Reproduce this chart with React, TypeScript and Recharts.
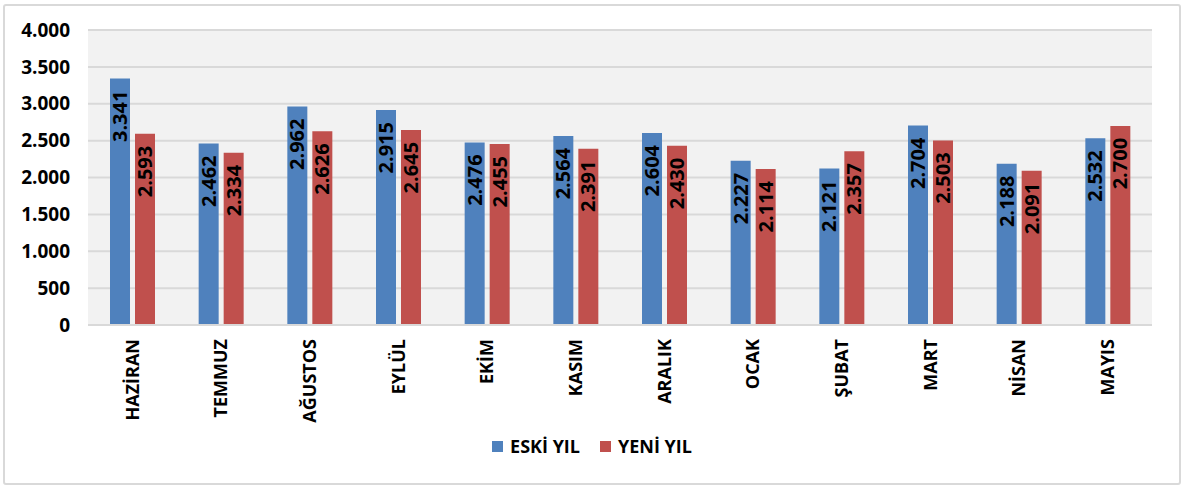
import React from "react"
import { BarChart, Bar, XAxis, YAxis, CartesianGrid, Legend, LabelList } from "recharts"

const months = ["HAZİRAN", "TEMMUZ", "AĞUSTOS", "EYLÜL", "EKİM", "KASIM", "ARALIK", "OCAK", "ŞUBAT", "MART", "NİSAN", "MAYIS"]
const eskiYil = [3341, 2462, 2962, 2915, 2476, 2564, 2604, 2227, 2121, 2704, 2188, 2532]
const yeniYil = [2593, 2334, 2626, 2645, 2455, 2391, 2430, 2114, 2357, 2503, 2091, 2700]
const yTicks = [0, 500, 1000, 1500, 2000, 2500, 3000, 3500, 4000]

const BLUE = "#4F81BD"
const RED = "#C0504D"
const FONT = "'Open Sans', 'Noto Sans', sans-serif"

const data = months.map((m, i) => ({ month: m, eski: eskiYil[i], yeni: yeniYil[i] }))

// 2341 -> "2.341"
const trNum = (v: number) => String(v).replace(/\B(?=(\d{3})+(?!\d))/g, ".")

function MonthTick(props: any) {
  const { x, y, payload } = props
  return (
    <text
      x={x}
      y={y + 6}
      transform={`rotate(-90, ${x}, ${y + 6})`}
      textAnchor="end"
      dy="0.35em"
      fill="#000"
      fontSize={18}
      fontWeight={700}
      fontFamily={FONT}
    >
      {payload.value}
    </text>
  )
}

function BarValue(props: any) {
  const { x, y, width, value } = props
  const cx = x + width / 2
  const ty = y + 12
  return (
    <text
      x={cx}
      y={ty}
      transform={`rotate(-90, ${cx}, ${ty})`}
      textAnchor="end"
      dy="0.35em"
      fill="#000"
      fontSize={20}
      fontWeight={700}
      fontFamily={FONT}
    >
      {trNum(value)}
    </text>
  )
}

function LegendBox() {
  const items = [
    { label: "ESKİ YIL", color: BLUE },
    { label: "YENİ YIL", color: RED },
  ]
  return (
    <div style={{ display: "flex", justifyContent: "center", alignItems: "center", gap: 20, fontFamily: FONT }}>
      {items.map((it) => (
        <div key={it.label} style={{ display: "flex", alignItems: "center", gap: 7 }}>
          <span style={{ width: 11, height: 11, background: it.color, display: "inline-block" }} />
          <span style={{ fontSize: 18, fontWeight: 700, color: "#000" }}>{it.label}</span>
        </div>
      ))}
    </div>
  )
}

export default function App() {
  return (
    <div style={{ position: "relative", width: 1184, height: 488, background: "#fff" }}>
      <style>{`body{margin:0}`}</style>
      <div
        style={{
          position: "absolute",
          left: 3,
          top: 4,
          width: 1174,
          height: 477,
          border: "2px solid #d9d9d9",
          borderRadius: 3,
        }}
      />
      <BarChart
        width={1184}
        height={488}
        data={data}
        margin={{ top: 30, right: 32, left: 10, bottom: 0 }}
        barSize={20}
        barGap={5}
      >
        <CartesianGrid vertical={false} stroke="#d9d9d9" strokeWidth={2} fill="#f2f2f2" />
        <XAxis
          dataKey="month"
          interval={0}
          height={123}
          axisLine={{ stroke: "#d9d9d9", strokeWidth: 2 }}
          tickLine={false}
          tick={<MonthTick />}
        />
        <YAxis
          width={78}
          domain={[0, 4000]}
          ticks={yTicks}
          axisLine={false}
          tickLine={false}
          tickMargin={12}
          tickFormatter={trNum}
          tick={{ fill: "#000", fontSize: 19, fontWeight: 700, fontFamily: FONT }}
        />
        <Legend
          verticalAlign="bottom"
          content={<LegendBox />}
          wrapperStyle={{ left: 0, width: 1184, height: 40, top: 434 }}
        />
        <Bar dataKey="eski" name="ESKİ YIL" fill={BLUE} isAnimationActive={false}>
          <LabelList dataKey="eski" content={<BarValue />} />
        </Bar>
        <Bar dataKey="yeni" name="YENİ YIL" fill={RED} isAnimationActive={false}>
          <LabelList dataKey="yeni" content={<BarValue />} />
        </Bar>
      </BarChart>
    </div>
  )
}
